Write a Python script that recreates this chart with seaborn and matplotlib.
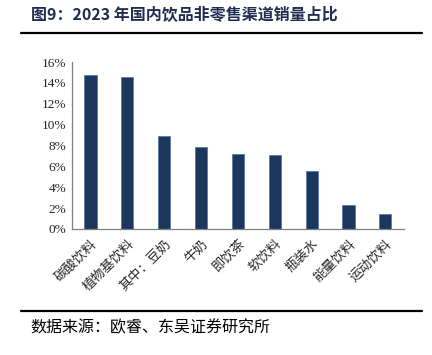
import numpy as np
import pandas as pd
import matplotlib
matplotlib.use("Agg")
import matplotlib.pyplot as plt
from matplotlib.ticker import PercentFormatter, FixedLocator
import seaborn as sns

# data
categories = ["碳酸饮料", "植物基饮料", "其中：豆奶", "牛奶", "即饮茶", "软饮料", "瓶装水", "能量饮料", "运动饮料"]
shares = [14.8, 14.6, 8.9, 7.9, 7.2, 7.1, 5.6, 2.3, 1.4]

df = pd.DataFrame({"cat": categories, "share": shares})

sns.set_style("white")
plt.rcParams['font.family'] = ['Noto Sans CJK SC', 'DejaVu Sans']

fig = plt.figure(figsize=(4.32, 3.55), dpi=100)
ax = fig.add_axes([0.1667, 0.355, 0.768, 0.47])

sns.barplot(data=df, x="cat", y="share", color="#1b375e", width=0.33,
            edgecolor="#5a7aa8", linewidth=0.6, saturation=1, ax=ax)

ax.set_xlim(-0.5, len(categories) - 0.5)
ax.set_ylim(0, 16)
ax.set_yticks(np.arange(0, 17, 2))
ax.yaxis.set_major_formatter(PercentFormatter(decimals=0))
ax.set_xlabel("")
ax.set_ylabel("")

ax.set_xticks(range(len(categories)))
ax.set_xticklabels(categories, rotation=45, ha="right", rotation_mode="anchor", fontsize=9.5)
ax.xaxis.set_minor_locator(FixedLocator(np.arange(-0.5, len(categories), 1)))
ax.tick_params(axis="x", which="major", length=0, pad=6)
ax.tick_params(axis="x", which="minor", length=3, direction="out", color="#808080", width=0.8)
ax.tick_params(axis="y", length=3, direction="in", color="#808080", width=0.8, labelsize=9.5, pad=4)
for lab in ax.get_yticklabels():
    lab.set_fontfamily(["Liberation Serif"])

for s in ["top", "right"]:
    ax.spines[s].set_visible(False)
for s in ["left", "bottom"]:
    ax.spines[s].set_color("#808080")
    ax.spines[s].set_linewidth(0.9)

# header, rules and source
fig.text(0.072, 0.957, "图9：2023 年国内饮品非零售渠道销量占比", fontsize=11.5, fontweight="bold",
         color="#1f2d4f", va="center", ha="left")
fig.add_artist(plt.Line2D([0.048, 0.978], [0.907, 0.907], color="black", linewidth=1.6))
fig.add_artist(plt.Line2D([0.048, 0.978], [0.124, 0.124], color="black", linewidth=1.6))
fig.text(0.07, 0.076, "数据来源：欧睿、东吴证券研究所", fontsize=11.5, color="black", va="center", ha="left")

fig.savefig("out.png", dpi=100)
